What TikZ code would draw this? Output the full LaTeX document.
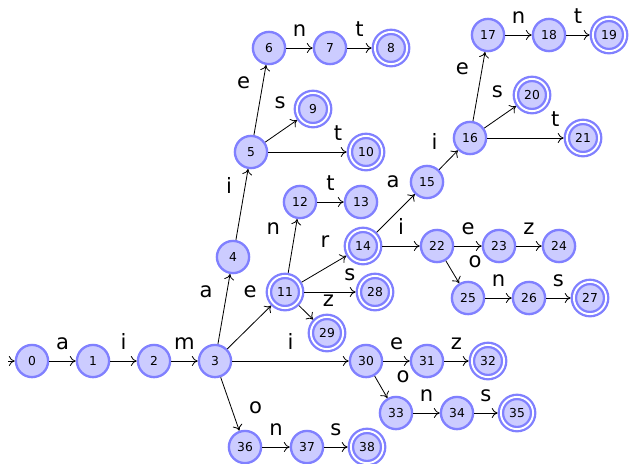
\documentclass[tikz,border=0pt]{standalone}
\usepackage{fontspec}
\setmainfont{DejaVu Sans}
\usepackage{tikz}
\usetikzlibrary{arrows.meta}
\tikzset{>={To[length=5pt,width=8.5pt]}}
\tikzset{
    dfastate/.style={circle, draw=blue!50, fill=blue!20, line width=2pt,
        minimum size=27.5pt, inner sep=0pt, font=\fontsize{10.5}{12}\selectfont},
    dfaaccept/.style={dfastate, double=white, double distance=1.6pt, outer sep=2.8pt},
    lbl/.style={font=\fontsize{18}{20}\selectfont, inner sep=0pt},
}

\begin{document}
\begin{tikzpicture}[x=0.03cm, y=-0.03cm]
    \useasboundingbox (0,0) rectangle (629,463);
    % states
    \node[dfastate]  (q0)  at (32,361)  {0};
    \node[dfastate]  (q1)  at (93,361)  {1};
    \node[dfastate]  (q2)  at (154,361) {2};
    \node[dfastate]  (q3)  at (215,361) {3};
    \node[dfastate]  (q4)  at (233,257) {4};
    \node[dfastate]  (q5)  at (251,152) {5};
    \node[dfastate]  (q6)  at (269,48)  {6};
    \node[dfastate]  (q7)  at (330,48)  {7};
    \node[dfaaccept] (q8)  at (391,48)  {8};
    \node[dfaaccept] (q9)  at (313,109) {9};
    \node[dfaaccept] (q10) at (366,152) {10};
    \node[dfaaccept] (q11) at (285,292) {11};
    \node[dfastate]  (q12) at (300,202) {12};
    \node[dfastate]  (q13) at (361,202) {13};
    \node[dfaaccept] (q14) at (363,246) {14};
    \node[dfastate]  (q15) at (427,182) {15};
    \node[dfastate]  (q16) at (470,138) {16};
    \node[dfastate]  (q17) at (488,35)  {17};
    \node[dfastate]  (q18) at (549,35)  {18};
    \node[dfaaccept] (q19) at (609,35)  {19};
    \node[dfaaccept] (q20) at (532,95)  {20};
    \node[dfaaccept] (q21) at (583,138) {21};
    \node[dfastate]  (q22) at (437,246) {22};
    \node[dfastate]  (q23) at (499,246) {23};
    \node[dfastate]  (q24) at (559,246) {24};
    \node[dfastate]  (q25) at (468,298) {25};
    \node[dfastate]  (q26) at (529,298) {26};
    \node[dfaaccept] (q27) at (590,298) {27};
    \node[dfaaccept] (q28) at (375,292) {28};
    \node[dfaaccept] (q29) at (327,333) {29};
    \node[dfastate]  (q30) at (366,361) {30};
    \node[dfastate]  (q31) at (427,361) {31};
    \node[dfaaccept] (q32) at (488,361) {32};
    \node[dfastate]  (q33) at (396,413) {33};
    \node[dfastate]  (q34) at (457,413) {34};
    \node[dfaaccept] (q35) at (517,413) {35};
    \node[dfastate]  (q36) at (245,447) {36};
    \node[dfastate]  (q37) at (307,447) {37};
    \node[dfaaccept] (q38) at (367,447) {38};
    \coordinate (start) at (8,361);
    % transitions
    \draw[->, line width=0.7pt] (start) -- (q0);
    \path[->, line width=0.7pt]
        (q0)  edge node[lbl, above=9.4pt] {a} (q1)
        (q1)  edge node[lbl, above=9.4pt] {i} (q2)
        (q2)  edge node[lbl, above=9.4pt] {m} (q3)
        (q3)  edge node[lbl, pos=.74, left=12pt] {a} (q4)
        (q4)  edge node[lbl, pos=.77, left=11pt] {i} (q5)
        (q5)  edge node[lbl, pos=.74, left=10.5pt] {e} (q6)
        (q6)  edge node[lbl, above=9.4pt] {n} (q7)
        (q7)  edge node[lbl, above=9.4pt] {t} (q8)
        (q5)  edge node[lbl, pos=.47, above=19pt] {s} (q9)
        (q5)  edge node[lbl, pos=.89, above=9.4pt] {t} (q10)
        (q3)  edge node[lbl, pos=.52, above=24pt] {e} (q11)
        (q11) edge node[lbl, pos=.82, left=13pt] {n} (q12)
        (q12) edge node[lbl, above=9.4pt] {t} (q13)
        (q11) edge node[lbl, pos=.52, above=17.5pt] {r} (q14)
        (q11) edge node[lbl, pos=.89, above=9.4pt] {s} (q28)
        (q11) edge node[lbl, right=14pt, yshift=10pt] {z} (q29)
        (q14) edge node[lbl, pos=.43, above=24pt] {a} (q15)
        (q15) edge node[lbl, pos=.9, left=15.5pt, yshift=9pt] {i} (q16)
        (q16) edge node[lbl, pos=.76, left=11pt] {e} (q17)
        (q17) edge node[lbl, above=9.4pt] {n} (q18)
        (q18) edge node[lbl, above=9.4pt] {t} (q19)
        (q16) edge node[lbl, pos=.41, above=18pt] {s} (q20)
        (q16) edge node[lbl, pos=.89, above=9.4pt] {t} (q21)
        (q14) edge node[lbl, above=9.4pt] {i} (q22)
        (q22) edge node[lbl, above=9.4pt] {e} (q23)
        (q23) edge node[lbl, above=9.4pt] {z} (q24)
        (q22) edge node[lbl, right=13.5pt, yshift=8.5pt] {o} (q25)
        (q25) edge node[lbl, above=9.4pt] {n} (q26)
        (q26) edge node[lbl, above=9.4pt] {s} (q27)
        (q3)  edge node[lbl, above=9.4pt] {i} (q30)
        (q30) edge node[lbl, above=9.4pt] {e} (q31)
        (q31) edge node[lbl, above=9.4pt] {z} (q32)
        (q30) edge node[lbl, right=13pt, yshift=8.5pt] {o} (q33)
        (q33) edge node[lbl, above=9.4pt] {n} (q34)
        (q34) edge node[lbl, above=9.4pt] {s} (q35)
        (q3)  edge node[lbl, right=16pt, yshift=-3pt] {o} (q36)
        (q36) edge node[lbl, above=9.4pt] {n} (q37)
        (q37) edge node[lbl, above=9.4pt] {s} (q38);
\end{tikzpicture}
\end{document}
